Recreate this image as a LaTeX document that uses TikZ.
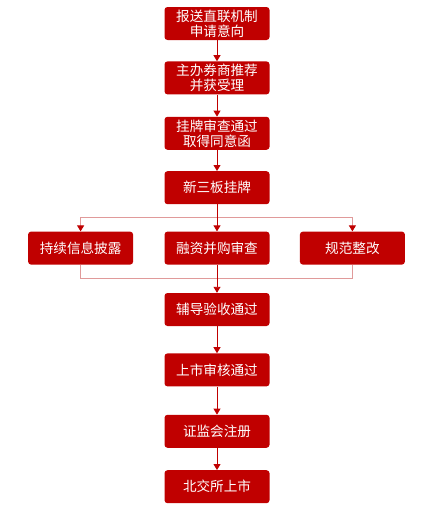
\documentclass[tikz,border=0pt]{standalone}
\usepackage{fontspec}
\usepackage{xcolor}
\usepackage{tikz}
\usetikzlibrary{arrows.meta, positioning, calc}
\newfontfamily\cjk{Noto Sans CJK SC}
\definecolor{BJ_RED}{HTML}{C00000}
\definecolor{BJ_LIGHT}{HTML}{E09A9A}
\tikzset{
  stage/.style={
    rectangle, rounded corners=3pt,
    minimum width=105pt, minimum height=33pt,
    inner sep=1pt, text centered, align=center,
    draw=none, fill=BJ_RED, text=white,
    font=\cjk\fontsize{13.6}{15}\selectfont},
  arr/.style={-{Triangle[length=6pt,width=7pt]}, line width=0.9pt, color=BJ_RED},
  larr/.style={-{Triangle[length=6pt,width=7pt,color=BJ_RED]}, line width=0.9pt, color=BJ_LIGHT},
  lline/.style={line width=0.9pt, color=BJ_LIGHT},
}
\begin{document}
\begin{tikzpicture}[node distance=21pt and 31pt]

  \useasboundingbox (0,0) rectangle (427pt,-506pt);

  \node[stage] (report) at (217pt,-23.5pt)
    {报送直联机制\\申请意向};

  \node[stage, below=of report] (recommend)
    {主办券商推荐\\并获受理};

  \node[stage, below=22pt of recommend] (review)
    {挂牌审查通过\\取得同意函};

  \node[stage, below=of review] (listing)
    {新三板挂牌};

  \node[stage, below=27pt of listing] (merger)
    {融资并购审查};

  \node[stage, left=of merger] (disclose)
    {持续信息披露};

  \node[stage, right=30pt of merger] (rectify)
    {规范整改};

  \node[stage, below=28pt of merger] (tutor)
    {辅导验收通过};

  \node[stage, below=27pt of tutor] (audit)
    {上市审核通过};

  \node[stage, below=28pt of audit] (register)
    {证监会注册};

  \node[stage, below=22pt of register] (bse)
    {北交所上市};

  \coordinate (split) at ($(listing.south)!0.5!(merger.north)$);
  \coordinate (join)  at ($(merger.south)!0.5!(tutor.north)$);

  \draw[arr] (report)    -- (recommend);
  \draw[arr] (recommend) -- (review);
  \draw[arr] (review)    -- (listing);
  \draw[lline] (split) -| (disclose.north);
  \draw[lline] (split) -| (rectify.north);
  \draw[larr] ($(split -| disclose.north)$) -- (disclose);
  \draw[larr] ($(split -| rectify.north)$)  -- (rectify);
  \draw[arr] (listing)   -- (merger);
  \draw[lline] (disclose) |- (join) -| (rectify);
  \draw[arr] (merger)    -- (tutor);
  \draw[arr] (tutor)     -- (audit);
  \draw[arr] (audit)     -- (register);
  \draw[arr] (register)  -- (bse);

\end{tikzpicture}
\end{document}
